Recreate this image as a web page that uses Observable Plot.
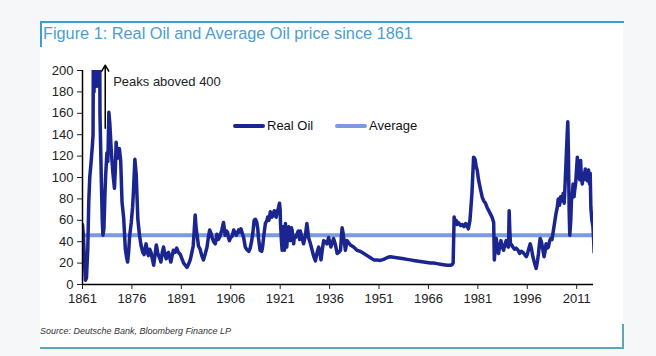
<!DOCTYPE html>
<html><head><meta charset="utf-8">
<script src="https://cdn.jsdelivr.net/npm/d3@7"></script>
<script src="https://cdn.jsdelivr.net/npm/@observablehq/plot@0.6"></script>
<style>
html,body{margin:0;padding:0;background:#f6f7f9;}
#wrap{position:relative;width:656px;height:356px;overflow:hidden;background:#f6f7f9;font-family:"Liberation Sans",Arial,sans-serif;}
#panel{position:absolute;left:40px;top:22px;width:583px;height:327px;background:#fff;}
#topline{position:absolute;left:40px;top:21px;width:584px;height:2px;background:#3d9dd2;}
#leftline{position:absolute;left:40px;top:21px;width:2px;height:26px;background:#3d9dd2;}
#title{position:absolute;left:43px;top:24px;font-size:16.3px;color:#4a9ed3;white-space:nowrap;}
#source{position:absolute;left:40px;top:326px;font-size:9px;font-style:italic;color:#333;white-space:nowrap;}
#botline{position:absolute;left:40px;top:347px;width:584px;height:2px;background:#5ba7ba;}
#rightline{position:absolute;left:622px;top:324px;width:2px;height:25px;background:#5ba7ba;}
#chart{position:absolute;left:0;top:0;}
.leg{position:absolute;top:118px;font-size:13px;color:#111;white-space:nowrap;}
.sw{position:absolute;height:4px;border-radius:2px;}
</style>
</head><body>
<div id="wrap">
  <div id="panel"></div>
  <div id="topline"></div>
  <div id="leftline"></div>
  <div id="title">Figure 1: Real Oil and Average Oil price since 1861</div>
  <div id="chart"></div>
  <div class="sw" style="left:233px;top:124px;width:32px;background:#1a2590;"></div>
  <div class="leg" style="left:267px;">Real Oil</div>
  <div class="sw" style="left:335px;top:124px;width:32px;background:#7b9ae0;"></div>
  <div class="leg" style="left:369px;">Average</div>
  <div id="source">Source: Deutsche Bank, Bloomberg Finance LP</div>
  <div id="botline"></div>
  <div id="rightline"></div>
</div>
<script>
const years = [1861.0,1861.3,1861.6,1861.9,1862.2,1862.6,1862.9,1863.2,1863.6,1864.0,1864.2,1864.35,1864.5,1864.65,1864.8,1864.95,1865.1,1865.25,1865.4,1865.55,1865.7,1865.85,1866.0,1866.15,1866.3,1866.5,1866.7,1867.0,1867.2,1867.5,1867.8,1868.0,1868.4,1868.7,1869.0,1869.3,1869.7,1870.2,1870.7,1871.0,1871.2,1871.6,1871.9,1872.2,1872.6,1873.0,1873.5,1874.0,1874.4,1874.7,1875.0,1875.3,1875.8,1876.2,1876.5,1876.9,1877.3,1877.8,1878.3,1878.8,1879.3,1879.7,1880.0,1880.3,1880.7,1881.0,1881.4,1881.8,1882.2,1882.6,1883.0,1883.4,1883.8,1884.1,1884.5,1884.8,1885.2,1885.6,1886.0,1886.4,1886.8,1887.1,1887.5,1887.8,1888.2,1888.6,1889.1,1889.6,1890.1,1890.7,1891.2,1891.7,1892.2,1892.7,1893.2,1893.7,1894.2,1894.6,1894.9,1895.2,1895.5,1895.8,1896.2,1896.7,1897.2,1897.7,1898.2,1898.8,1899.2,1899.6,1900.0,1900.3,1900.8,1901.3,1901.8,1902.2,1902.6,1903.0,1903.3,1903.8,1904.3,1904.7,1905.0,1905.3,1905.6,1906.0,1906.4,1906.9,1907.3,1907.7,1908.1,1908.4,1908.8,1909.1,1909.5,1909.9,1910.4,1910.8,1911.1,1911.5,1911.9,1912.3,1912.7,1913.1,1913.5,1913.9,1914.2,1914.4,1914.9,1915.4,1915.7,1916.0,1916.5,1917.0,1917.2,1917.6,1918.0,1918.5,1918.9,1919.2,1919.5,1919.8,1920.2,1920.5,1920.8,1921.0,1921.1,1921.4,1921.6,1921.9,1922.1,1922.3,1922.6,1922.8,1923.0,1923.3,1923.6,1923.8,1924.1,1924.4,1924.6,1925.1,1925.3,1925.7,1926.1,1926.5,1926.9,1927.1,1927.6,1928.1,1928.6,1929.1,1929.4,1929.6,1930.2,1930.7,1931.2,1931.7,1932.2,1932.7,1933.1,1933.4,1933.8,1934.2,1934.7,1935.2,1935.7,1936.0,1936.4,1936.8,1937.2,1937.7,1938.3,1938.8,1939.3,1939.6,1939.8,1940.1,1940.3,1940.8,1941.3,1941.8,1942.3,1943.3,1944.3,1945.3,1946.4,1947.4,1948.4,1949.4,1950.4,1951.4,1952.4,1953.4,1954.4,1955.4,1956.4,1957.5,1958.5,1959.5,1960.5,1961.5,1962.5,1963.5,1964.6,1965.6,1966.6,1967.6,1968.6,1969.6,1970.6,1971.7,1972.7,1973.2,1973.5,1973.8,1974.1,1974.4,1974.7,1975.0,1975.3,1975.8,1976.3,1976.8,1977.3,1977.7,1978.1,1978.6,1978.9,1979.2,1979.5,1979.7,1980.0,1980.2,1980.5,1980.8,1981.2,1981.6,1982.0,1982.3,1982.8,1983.3,1983.8,1984.3,1984.8,1985.3,1985.6,1985.8,1986.0,1986.3,1986.6,1986.9,1987.3,1987.6,1988.0,1988.4,1988.8,1989.2,1989.6,1990.0,1990.3,1990.5,1990.7,1990.9,1991.3,1991.6,1992.1,1992.6,1993.2,1993.7,1994.2,1994.7,1995.2,1995.7,1996.1,1996.4,1996.9,1997.3,1997.7,1998.2,1998.7,1999.1,1999.4,1999.7,1999.9,2000.3,2000.7,2001.1,2001.4,2001.7,2002.1,2002.4,2002.8,2003.1,2003.5,2003.9,2004.3,2004.7,2005.1,2005.4,2005.8,2006.1,2006.5,2006.9,2007.2,2007.4,2007.7,2008.1,2008.3,2008.5,2008.7,2008.9,2009.2,2009.4,2009.7,2009.9,2010.2,2010.4,2010.7,2011.0,2011.2,2011.4,2011.6,2011.9,2012.2,2012.4,2012.7,2013.0,2013.3,2013.6,2013.9,2014.2,2014.4,2014.6,2014.9,2015.1,2015.3,2015.6,2015.9,2016.1,2016.3];
const realOil = [56,45,20,4,6,33,77,100,114,130,140,260,180,420,190,380,185,400,195,350,190,300,185,320,160,130,100,60,46,52,83,100,123,115,161,150,127,105,90,110,133,118,124,127,115,77,62,33,25,21,30,45,58,72,89,117,103,61,46,36,30,28,34,38,30,27,33,30,24,18,27,37,30,27,24,21,30,35,28,24,29,30,25,21,27,32,30,34,30,28,24,20,18,16,19,23,30,36,50,65,52,46,36,33,27,23,28,35,44,51,48,44,40,38,47,42,44,48,51,58,46,50,49,44,41,44,45,51,48,46,49,51,49,52,48,44,35,33,32,31,34,40,48,60,61,58,52,44,32,31,36,45,57,60,63,60,68,63,66,69,64,63,69,72,76,70,57,40,32,54,45,32,57,44,35,48,54,48,41,53,51,38,45,44,47,50,42,50,44,38,45,57,50,44,38,32,26,22,30,35,28,23,33,41,40,38,44,40,35,39,43,38,29,30,32,45,53,48,43,32,41,39,37,35,32,31,29,27,25,23,23,22.5,23.5,25,26,25.5,25,24.5,24,23.5,23,22.5,22,21.5,21,20.5,20,20,19.5,19,18.5,18,18,18.5,20,63,58,60,56,58,57,55,56,54,57,55,52,60,72,85,105,119,118,116,110,107,98,92,86,82,78,76,72,69,66,63,60,58,23,35,43,32,29,36,41,35,32,37,41,36,35,69,50,38,37,35,33,34,32,29,31,30,28,26,29,33,38,33,26,20,15,22,29,38,43,40,33,26,31,38,34,35,41,43,42,50,58,66,72,80,74,82,78,85,76,88,110,140,152,120,70,46,60,78,85,94,82,88,95,110,119,100,108,98,116,100,94,104,98,108,100,97,104,107,94,104,72,60,55,45,30];
const averageOil = 46;
const xTicks = [1861,1876,1891,1906,1921,1936,1951,1966,1981,1996,2011];
const yTicks = [0,20,40,60,80,100,120,140,160,180,200];
const xExtent = [1861, 2016.1];
const annotationArrow = [{x: 1867.9, y1: 146, y2: 205}];
const annotationText = [{x: 1870.3, y: 189, label: "Peaks aboved 400"}];

const series = years.map((y, i) => ({year: y, value: realOil[i]}));

const chart = Plot.plot({
  width: 656,
  height: 356,
  marginLeft: 82,
  marginRight: 63,
  marginTop: 70,
  marginBottom: 72,
  style: {background: "transparent", fontFamily: "Liberation Sans, Arial, sans-serif", fontSize: "13px", color: "#222"},
  x: {domain: xExtent, ticks: xTicks, tickFormat: d => String(d), tickSize: 5, tickPadding: 4, label: null},
  y: {domain: [0, 200], ticks: yTicks, tickSize: 5, tickPadding: 4, label: null},
  marks: [
    Plot.ruleY([averageOil], {x1: xExtent[0], x2: xExtent[1], stroke: "#7b9ae0", strokeWidth: 4}),
    Plot.line(series, {x: "year", y: "value", stroke: "#1a2590", strokeWidth: 3.5, clip: true, strokeLinejoin: "round"}),
    Plot.ruleX([xExtent[0]], {stroke: "#000", strokeWidth: 1.5}),
    Plot.ruleY([0], {stroke: "#000", strokeWidth: 1.5}),
    Plot.arrow(annotationArrow, {x1: "x", x2: "x", y1: "y1", y2: "y2", stroke: "#000", strokeWidth: 1.5, headLength: 7}),
    Plot.text(annotationText, {x: "x", y: "y", text: "label", textAnchor: "start", fontSize: 13, fill: "#222"})
  ]
});
document.getElementById("chart").appendChild(chart);
</script>
</body></html>
